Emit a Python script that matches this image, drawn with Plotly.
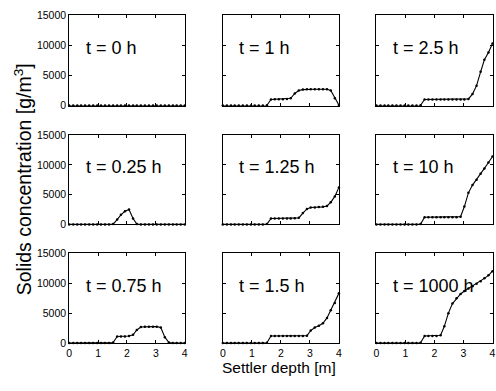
import plotly.graph_objects as go

depth = [0.00, 0.14, 0.28, 0.41, 0.55, 0.69, 0.83, 0.97, 1.10, 1.24,
         1.38, 1.52, 1.66, 1.79, 1.93, 2.07, 2.21, 2.34, 2.48, 2.62,
         2.76, 2.90, 3.03, 3.17, 3.31, 3.45, 3.59, 3.72, 3.86, 4.00]

c_t0 = [0, 0, 0, 0, 0, 0, 0, 0, 0, 0, 0, 0, 0, 0, 0,
        0, 0, 0, 0, 0, 0, 0, 0, 0, 0, 0, 0, 0, 0, 0]
c_t025 = [0, 0, 0, 0, 0, 0, 0, 0, 0, 0, 0, 50, 800, 1600, 2200,
          2500, 1000, 50, 0, 0, 0, 0, 0, 0, 0, 0, 0, 0, 0, 0]
c_t075 = [0, 0, 0, 0, 0, 0, 0, 0, 0, 0, 0, 100, 1100, 1100, 1100,
          1200, 1400, 2200, 2700, 2750, 2750, 2750, 2750, 2600, 1000, 100, 0, 0, 0, 0]
c_t1 = [0, 0, 0, 0, 0, 0, 0, 0, 0, 0, 0, 50, 1000, 1050, 1050,
        1050, 1100, 1200, 2000, 2500, 2650, 2700, 2700, 2700, 2700, 2700, 2700, 2500, 1200, 100]
c_t125 = [0, 0, 0, 0, 0, 0, 0, 0, 0, 0, 0, 50, 1000, 1000, 1000,
          1000, 1000, 1000, 1050, 1100, 1900, 2600, 2850, 2850, 2900, 2950, 3100, 3700, 4700, 6200]
c_t15 = [0, 0, 0, 0, 0, 0, 0, 0, 0, 0, 0, 50, 1200, 1200, 1200,
         1200, 1200, 1200, 1200, 1200, 1200, 1250, 2100, 2600, 2900, 3300, 4200, 5500, 6700, 8300]
c_t25 = [0, 0, 0, 0, 0, 0, 0, 0, 0, 0, 0, 50, 1000, 1000, 1000,
         1000, 1000, 1000, 1000, 1000, 1000, 1000, 1000, 1100, 1900, 3300, 5600, 7600, 8800, 10300]
c_t10 = [0, 0, 0, 0, 0, 0, 0, 0, 0, 0, 0, 50, 1200, 1200, 1200,
         1200, 1200, 1200, 1200, 1200, 1200, 1300, 3000, 5300, 6600, 7500, 8500, 9400, 10400, 11400]
c_t1000 = [0, 0, 0, 0, 0, 0, 0, 0, 0, 0, 0, 50, 1200, 1200, 1200,
           1200, 1300, 2800, 5000, 6600, 7500, 8200, 8700, 9100, 9500, 9900, 10300, 10800, 11300, 12000]

panel_labels = ["t = 0 h", "t = 1 h", "t = 2.5 h",
                "t = 0.25 h", "t = 1.25 h", "t = 10 h",
                "t = 0.75 h", "t = 1.5 h", "t = 1000 h"]
panel_data = [c_t0, c_t1, c_t25,
              c_t025, c_t125, c_t10,
              c_t075, c_t15, c_t1000]

x_ticks = [0, 1, 2, 3, 4]
x_ticktext = ["0", "1", "2", "3", "4"]
y_ticks = [0, 5000, 10000, 15000]
y_ticktext = ["0", "5000", "10000", "15000"]

W, H = 496, 391
col_px = [(67, 184), (222.5, 340), (378, 495.5)]
row_px = [(9.5, 102.7), (133.2, 225.3), (255, 347.8)]

fig = go.Figure()
font = "Liberation Sans, Arial, sans-serif"

for i in range(9):
    r, c = divmod(i, 3)
    n = i + 1
    xa = "x" if n == 1 else f"x{n}"
    ya = "y" if n == 1 else f"y{n}"
    fig.add_trace(go.Scatter(
        x=depth, y=panel_data[i], mode="lines+markers", xaxis=xa, yaxis=ya,
        line=dict(color="black", width=1.1),
        marker=dict(color="black", size=2.5),
        showlegend=False, cliponaxis=False))
    xkey = "xaxis" if n == 1 else f"xaxis{n}"
    ykey = "yaxis" if n == 1 else f"yaxis{n}"
    x0, x1 = col_px[c]
    y0, y1 = row_px[r]
    common = dict(showline=True, linecolor="black", linewidth=1, mirror="ticks",
                  ticks="inside", ticklen=3, tickcolor="black", showgrid=False,
                  zeroline=False, tickfont=dict(family=font, size=10.5, color="black"))
    fig.layout[xkey] = dict(domain=[x0 / W, x1 / W], range=[0, 4], tickmode="array",
                            tickvals=x_ticks, ticktext=x_ticktext,
                            showticklabels=(r == 2), anchor=ya, **common)
    fig.layout[ykey] = dict(domain=[1 - y1 / H, 1 - y0 / H], range=[0, 15000],
                            tickmode="array", tickvals=y_ticks, ticktext=y_ticktext,
                            showticklabels=(c == 0), anchor=xa, **common)
    fig.add_annotation(x=0.5, y=9600, xref=xa, yref=ya, text=panel_labels[i],
                       showarrow=False, xanchor="left", yanchor="middle",
                       font=dict(family=font, size=18, color="black"))

fig.add_annotation(x=279 / W, y=1 - 373 / H, xref="paper", yref="paper",
                   text="Settler depth [m]", showarrow=False,
                   xanchor="center", yanchor="middle",
                   font=dict(family=font, size=15.5, color="black"))
fig.add_annotation(x=20 / W, y=1 - 179 / H, xref="paper", yref="paper",
                   text="Solids concentration [g/m<sup>3</sup>]", showarrow=False,
                   textangle=-90, xanchor="center", yanchor="middle",
                   font=dict(family=font, size=19.5, color="black"))

fig.update_layout(width=W, height=H, margin=dict(l=0, r=0, t=0, b=0),
                  paper_bgcolor="white", plot_bgcolor="white")
fig.write_html("out.html", config={"displayModeBar": False},
               post_script="document.body.style.margin='0px';document.body.style.overflow='hidden';")
